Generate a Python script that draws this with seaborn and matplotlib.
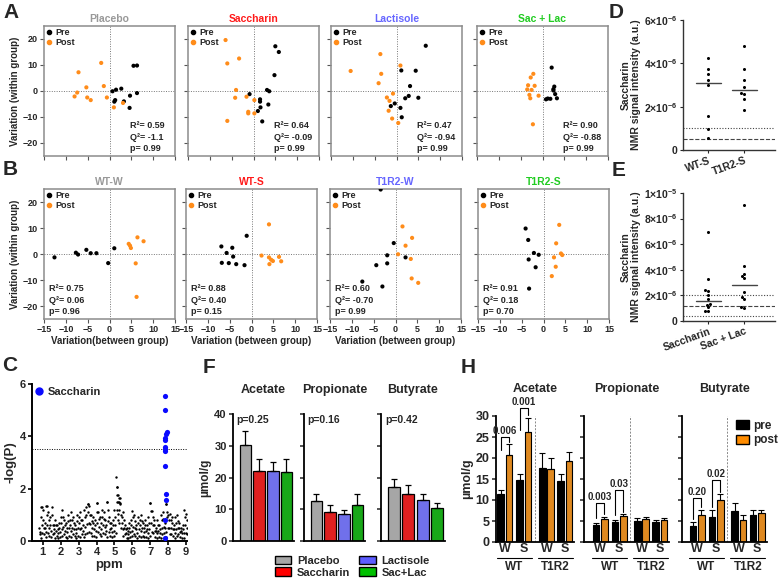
import numpy as np
import pandas as pd
import matplotlib
matplotlib.use("Agg")
import matplotlib.pyplot as plt
import matplotlib.transforms as mtransforms
import seaborn as sns
from matplotlib.patches import Patch
from matplotlib.lines import Line2D

# ---------------- data ----------------
# A: PLS-DA score plots (x = between group, y = within group)
placebo_pre = [(0.7, -0.1), (1.5, 0.5), (2.7, 0.9), (1.3, -3.5), (1.1, -4.1), (3.3, -4.0),
               (4.7, -1.8), (4.6, -6.5), (5.5, 9.7), (6.3, 9.8), (6.3, -0.8)]
placebo_post = [(-7.1, 7.2), (-1.9, 10.8), (-5.3, 1.4), (-7.4, -0.6), (-8.0, -2.1), (-5.1, -2.5),
                (-4.3, -3.5), (-1.3, 1.9), (-0.6, -2.5), (1.0, -6.3), (3.1, -4.6)]
saccharin_pre = [(5.0, 17.2), (5.8, 15.0), (4.8, 6.1), (3.1, 0.4), (3.6, -0.1), (3.4, -5.2),
                 (1.5, -3.2), (1.5, -4.1), (1.6, -6.3), (1.0, -7.7), (-0.9, -1.2), (2.0, -11.7)]
saccharin_post = [(-6.4, 19.6), (-6.0, 10.6), (-3.3, 12.5), (-4.0, 0.4), (-4.2, -2.6), (-1.6, -2.2),
                  (-1.2, -8.0), (-1.2, -8.6), (0.2, -3.5), (0.2, -8.6), (-6.0, -11.5)]
lactisole_pre = [(6.7, 17.4), (1.1, 7.9), (4.4, 7.8), (3.1, 1.9), (2.8, -1.9), (2.0, -2.8),
                 (5.0, -2.6), (0.9, -6.5), (1.2, -10.1), (-1.3, -5.8), (-0.4, -4.8)]
lactisole_post = [(-10.5, 7.7), (-3.7, 14.2), (-3.5, 6.6), (-4.1, 3.0), (-2.2, -2.5), (-1.6, -3.8),
                  (-1.8, -7.6), (-1.0, -10.6), (0.4, -12.3), (-0.8, -1.0), (0.9, 9.8)]
saclac_pre = [(2.1, 9.0), (2.7, 1.7), (2.5, 0.7), (2.5, 0.2), (2.9, -1.2), (3.3, -2.8),
              (1.8, -3.0), (0.8, -3.2), (1.2, -2.9)]
saclac_post = [(-2.1, 6.6), (-2.7, 5.2), (-3.5, 0.6), (-2.5, 0.4), (-1.8, 2.0), (-3.3, 2.2),
               (-3.0, -1.5), (-2.8, -2.8), (-0.9, -1.8), (-2.2, -12.8)]

# B: mouse score plots
wtw_pre = [(-12.6, -1.3), (-7.7, 0.5), (-7.2, -0.2), (-5.3, 1.6), (-4.3, 0.3), (-3.0, 0.3),
           (-0.3, -3.5), (1.1, 2.2)]
wtw_post = [(4.4, 3.9), (4.7, 3.2), (4.9, 2.3), (6.4, 6.4), (7.8, 4.9), (6.0, -3.6), (6.2, -16.5)]
wts_pre = [(-6.9, 2.9), (-5.7, 0.4), (-4.4, 2.4), (-4.2, -1.0), (-6.8, -3.4), (-5.2, -3.5),
           (-3.5, -3.9), (-1.6, -4.3), (-1.1, 7.0)]
wts_post = [(4.0, 11.4), (2.3, -0.6), (4.0, -1.3), (4.5, -2.2), (4.9, -2.7), (6.3, -1.1),
            (6.8, -2.8), (4.1, -3.9)]
t1r2w_pre = [(-3.4, 24.8), (-0.4, 4.2), (-1.9, -0.5), (-1.9, -3.6), (-4.4, -4.3), (-7.6, -10.6),
             (-3.0, -12.5), (2.3, -1.3)]
t1r2w_post = [(1.6, 10.6), (3.8, 6.2), (2.3, 3.2), (0.6, -0.1), (3.5, -1.9), (3.7, -9.4), (5.2, -11.1)]
t1r2s_pre = [(-4.1, 9.8), (-3.5, 5.4), (-2.2, 0.4), (-1.1, -0.3), (-3.4, -2.1), (-1.8, -5.1),
             (-3.3, -13.3)]
t1r2s_post = [(3.6, 11.2), (2.9, 4.1), (4.0, 0.2), (4.3, -0.4), (2.4, -1.3), (2.8, -4.9), (1.9, -8.5)]

a_stats = [("0.59", "-1.1", "0.99"), ("0.64", "-0.09", "0.99"),
           ("0.47", "-0.94", "0.99"), ("0.90", "-0.88", "0.99")]
b_stats = [("0.75", "0.06", "0.96"), ("0.88", "0.40", "0.15"),
           ("0.60", "-0.70", "0.99"), ("0.91", "0.18", "0.70")]

# C: -log(P) along the NMR spectrum
c_ppm = [0.8, 0.9, 1.0, 1.1, 1.2, 1.3, 1.4, 1.5, 1.6, 1.7, 1.8, 1.9, 2.0, 2.1, 2.2, 2.3, 2.4,
         2.5, 2.6, 2.7, 2.8, 2.9, 3.0, 3.1, 3.2, 3.3, 3.4, 3.5, 3.6, 3.7, 3.8, 3.9, 4.0, 4.1,
         4.2, 4.3, 4.4, 4.5, 4.6, 4.7, 4.8, 4.9, 5.0, 5.1, 5.2, 5.3, 5.4, 5.5, 5.6, 5.7, 5.8,
         5.9, 6.0, 6.1, 6.2, 6.3, 6.4, 6.5, 6.6, 6.7, 6.8, 6.9, 7.0, 7.1, 7.2, 7.3, 7.4, 7.5,
         7.6, 7.7, 7.8, 7.9, 8.0, 8.1, 8.2, 8.3, 8.4, 8.5, 8.6, 8.7, 8.8, 8.9, 9.0]
c_top = [0.5, 1.3, 1.2, 0.7, 1.35, 1.1, 0.9, 1.3, 0.6, 0.8, 0.6, 0.7, 0.9, 1.2, 0.8, 0.7, 1.0,
         0.8, 1.1, 0.9, 0.6, 1.0, 0.9, 1.1, 0.8, 1.2, 1.3, 1.4, 1.35, 1.0, 0.9, 0.8, 1.45, 1.1,
         0.9, 1.2, 1.1, 0.8, 1.5, 0.9, 0.7, 0.8, 1.2, 2.45, 1.75, 1.65, 0.9, 1.1, 0.6, 0.5, 0.7,
         0.8, 1.15, 1.0, 0.6, 0.9, 0.8, 1.0, 0.7, 0.8, 0.6, 0.9, 1.45, 1.15, 0.8, 0.5, 0.8, 0.6,
         1.0, 1.1, 0.7, 1.4, 1.0, 1.05, 0.9, 0.6, 0.9, 1.0, 0.7, 0.5, 0.6, 1.2, 1.05]
c_mid = [0.35, 0.9, 0.8, 0.5, 1.0, 0.8, 0.6, 1.0, 0.45, 0.6, 0.45, 0.5, 0.7, 0.9, 0.6, 0.5, 0.75,
         0.6, 0.8, 0.7, 0.45, 0.75, 0.7, 0.8, 0.6, 0.9, 1.0, 1.1, 1.0, 0.75, 0.7, 0.6, 1.1, 0.85,
         0.7, 0.9, 0.85, 0.6, 1.2, 0.7, 0.5, 0.6, 0.9, 2.05, 1.5, 1.4, 0.7, 0.8, 0.45, 0.4, 0.5,
         0.6, 0.9, 0.75, 0.45, 0.7, 0.6, 0.75, 0.5, 0.6, 0.45, 0.7, 1.15, 0.9, 0.6, 0.4, 0.6, 0.45,
         0.8, 0.85, 0.5, 1.1, 0.8, 0.8, 0.7, 0.45, 0.7, 0.75, 0.5, 0.4, 0.45, 0.9, 0.8]
c_low = [0.25, 0.6, 0.5, 0.35, 0.6, 0.5, 0.4, 0.6, 0.3, 0.4, 0.3, 0.35, 0.45, 0.55, 0.4, 0.35, 0.5,
         0.4, 0.5, 0.45, 0.3, 0.5, 0.45, 0.5, 0.4, 0.55, 0.65, 0.7, 0.65, 0.5, 0.45, 0.4, 0.7, 0.55,
         0.45, 0.6, 0.55, 0.4, 0.75, 0.45, 0.35, 0.4, 0.6, 1.5, 1.2, 1.0, 0.45, 0.5, 0.3, 0.25, 0.35,
         0.4, 0.55, 0.5, 0.3, 0.45, 0.4, 0.5, 0.35, 0.4, 0.3, 0.45, 0.7, 0.6, 0.4, 0.3, 0.4, 0.3,
         0.5, 0.55, 0.35, 0.9, 0.5, 0.5, 0.45, 0.3, 0.45, 0.5, 0.35, 0.3, 0.3, 0.6, 0.5]
c_floor = [0.1, 0.3, 0.25, 0.15, 0.3, 0.2, 0.15, 0.25, 0.1, 0.2, 0.1, 0.15, 0.2, 0.25, 0.15, 0.1, 0.2,
           0.15, 0.25, 0.2, 0.1, 0.2, 0.15, 0.25, 0.15, 0.25, 0.3, 0.35, 0.3, 0.2, 0.2, 0.15, 0.35, 0.25,
           0.2, 0.3, 0.25, 0.15, 0.35, 0.2, 0.15, 0.2, 0.3, 0.8, 0.7, 0.5, 0.2, 0.25, 0.1, 0.1, 0.15,
           0.2, 0.25, 0.2, 0.1, 0.2, 0.15, 0.2, 0.15, 0.15, 0.1, 0.2, 0.35, 0.3, 0.15, 0.1, 0.15, 0.1,
           0.25, 0.3, 0.15, 0.5, 0.25, 0.25, 0.2, 0.1, 0.2, 0.25, 0.15, 0.1, 0.1, 0.3, 0.25]
c_extra_ppm = [5.12, 5.15, 5.2, 5.25, 5.3, 7.0, 3.55, 4.05, 4.6, 0.95, 1.25, 7.88, 5.17, 5.22]
c_extra_val = [1.75, 2.05, 1.5, 1.65, 1.45, 1.45, 1.4, 1.45, 1.5, 1.3, 1.35, 1.4, 1.2, 1.05]
sac_ppm = [7.85, 7.85, 7.93, 7.9, 7.85, 7.83, 7.85, 7.83, 7.85, 7.85, 7.9, 7.9, 7.8, 7.85]
sac_logp = [5.55, 5.0, 4.15, 4.1, 3.95, 3.85, 3.6, 3.5, 3.45, 2.85, 1.8, 1.55, 0.8, 0.1]

# D / E: saccharin NMR intensity (x1e-6)
d_groups = ["WT-S", "T1R2-S"]
d_wt = [4.25, 3.75, 3.5, 3.25, 3.0, 1.55, 0.95, 0.55]
d_t1r2 = [4.8, 3.75, 3.25, 2.9, 2.65, 2.6, 2.35, 1.85]
d_medians = [3.1, 2.78]
e_groups = ["Saccharin", "Sac + Lac"]
e_sac = [6.96, 3.27, 2.41, 2.37, 2.05, 1.71, 1.3, 1.28, 1.08, 0.77, 0.75]
e_saclac = [9.1, 4.3, 3.66, 3.5, 3.37, 2.28, 1.9, 1.71, 1.11, 1.0]
e_medians = [1.58, 2.8]

# F: human SCFA
f_names = ["Placebo", "Saccharin", "Lactisole", "Sac+Lac"]
f_acetate = [30.2, 22.0, 22.0, 21.8]
f_acetate_err = [4.5, 3.9, 2.8, 4.1]
f_propionate = [12.7, 9.1, 8.4, 11.3]
f_propionate_err = [2.0, 2.1, 1.3, 3.5]
f_butyrate = [17.0, 14.7, 12.8, 10.5]
f_butyrate_err = [2.4, 2.9, 1.9, 1.6]
f_pvals = ["p=0.25", "p=0.16", "p=0.42"]

# H: mouse SCFA (W pre, W post, S pre, S post | WT, then T1R2)
h_cond = ["pre", "post"] * 4
h_acetate = [11.5, 20.8, 14.7, 26.1, 17.7, 17.3, 14.5, 19.2]
h_acetate_err = [1.0, 2.5, 1.6, 3.5, 3.4, 2.7, 1.6, 2.2]
h_propionate = [4.0, 5.4, 4.8, 6.1, 5.1, 5.4, 4.8, 5.2]
h_propionate_err = [0.5, 0.5, 0.5, 0.5, 0.5, 0.6, 0.4, 0.4]
h_butyrate = [3.7, 6.5, 6.0, 9.9, 7.4, 5.3, 6.4, 6.8]
h_butyrate_err = [1.1, 1.1, 1.7, 1.6, 1.9, 1.1, 1.3, 0.9]
h_pvals = [("0.006", "0.001"), ("0.003", "0.03"), ("0.20", "0.02")]

# ---------------- style ----------------
sns.set_theme(style="ticks")
plt.rcParams["font.family"] = ["Liberation Sans", "DejaVu Sans"]
plt.rcParams["font.weight"] = "bold"
plt.rcParams["axes.labelweight"] = "bold"
plt.rcParams["axes.titleweight"] = "bold"
plt.rcParams["mathtext.fontset"] = "custom"
plt.rcParams["mathtext.rm"] = "Liberation Sans:bold"
plt.rcParams["mathtext.bf"] = "Liberation Sans:bold"
plt.rcParams["mathtext.default"] = "bf"

ORANGE = "#ff8c1a"
W, H = 778, 578
fig = plt.figure(figsize=(7.78, 5.78), dpi=100)


def box(l, t, r, b):
    return [l / W, 1 - b / H, (r - l) / W, (b - t) / H]


def score_panel(l, t, title, tcolor, pre, post, stats, row, col, xlabel=None):
    ax = fig.add_axes(box(l, t, l + 131, t + 130))
    df = pd.DataFrame(pre + post, columns=["x", "y"])
    df["phase"] = ["Pre"] * len(pre) + ["Post"] * len(post)
    ax.axhline(0, color="#777", ls=(0, (1, 1.5)), lw=0.7, zorder=1)
    ax.axvline(0, color="#777", ls=(0, (1, 1.5)), lw=0.7, zorder=1)
    sns.scatterplot(data=df, x="x", y="y", hue="phase",
                    palette={"Pre": "black", "Post": ORANGE},
                    s=9, linewidth=0, legend=False, ax=ax, zorder=3)
    ax.set_xlim(-15, 15)
    ax.set_ylim(-25, 25)
    ax.set_xticks([-15, -10, -5, 0, 5, 10, 15])
    ax.set_yticks([-20, -10, 0, 10, 20])
    for sp in ax.spines.values():
        sp.set_color("#8c8c8c")
        sp.set_linewidth(1.1)
    ax.tick_params(length=3, width=0.8, color="#555", labelsize=6.5, pad=1.5)
    ax.set_xlabel(xlabel if xlabel else "", fontsize=7, labelpad=1.5)
    ax.set_ylabel("Variation (within group)" if col == 0 else "", fontsize=7, labelpad=2)
    if col != 0:
        ax.set_yticklabels([])
    if row == 0:
        ax.set_xticklabels([])
    ax.set_title(title, color=tcolor, fontsize=7.5, pad=3)
    handles = [Line2D([], [], marker="o", ls="", color="black", markersize=3, label="Pre"),
               Line2D([], [], marker="o", ls="", color=ORANGE, markersize=3, label="Post")]
    ax.legend(handles=handles, loc="upper left", frameon=False, fontsize=6.5,
              handlelength=0.5, handletextpad=0.5, labelspacing=0.05,
              borderaxespad=0.15, borderpad=0.1)
    r2, q2, p = stats
    x0 = 0.66 if row == 0 else 0.035
    for txt, yy in zip([f"R²= {r2}", f"Q²= {q2}", f"p= {p}"], [0.2, 0.11, 0.02]):
        ax.text(x0, yy, txt, transform=ax.transAxes, fontsize=6.5, va="bottom")
    return ax


a_lefts = [44, 188, 331, 477]
a_titles = [("Placebo", "#999999"), ("Saccharin", "#ff1a1a"),
            ("Lactisole", "#6666ff"), ("Sac + Lac", "#22cc22")]
a_data = [(placebo_pre, placebo_post), (saccharin_pre, saccharin_post),
          (lactisole_pre, lactisole_post), (saclac_pre, saclac_post)]
for i in range(4):
    score_panel(a_lefts[i], 26, a_titles[i][0], a_titles[i][1], a_data[i][0], a_data[i][1],
                a_stats[i], 0, i)

b_lefts = [44, 186, 330, 478]
b_titles = [("WT-W", "#999999"), ("WT-S", "#ff1a1a"), ("T1R2-W", "#6666ff"), ("T1R2-S", "#22cc22")]
b_data = [(wtw_pre, wtw_post), (wts_pre, wts_post), (t1r2w_pre, t1r2w_post), (t1r2s_pre, t1r2s_post)]
b_xlabels = ["Variation(between group)", "Variation (between group)", "Variation (between group)", None]
for i in range(4):
    score_panel(b_lefts[i], 189, b_titles[i][0], b_titles[i][1], b_data[i][0], b_data[i][1],
                b_stats[i], 1, i, b_xlabels[i])

# ---------------- C ----------------
axc = fig.add_axes(box(32, 384, 187, 541))
rows = [c_top, c_mid, c_low, c_floor]
offsets = [0.0, 0.03, 0.055, 0.075]
for vals, off in zip(rows, offsets):
    sns.scatterplot(x=np.array(c_ppm) + off, y=vals, color="black", s=3, linewidth=0, ax=axc)
sns.scatterplot(x=c_extra_ppm, y=c_extra_val, color="black", s=3, linewidth=0, ax=axc)
sns.scatterplot(x=sac_ppm, y=sac_logp, color="#0a0aff", s=14, linewidth=0, ax=axc, zorder=4)
axc.axhline(3.5, color="black", ls=(0, (1, 1.5)), lw=0.7)
axc.set_xlim(0.4, 9.05)
axc.set_ylim(0, 6)
axc.set_xticks(range(1, 10))
axc.set_yticks([0, 2, 4, 6])
sns.despine(ax=axc)
for sp in ["left", "bottom"]:
    axc.spines[sp].set_linewidth(1.4)
    axc.spines[sp].set_color("black")
axc.tick_params(labelsize=8, length=3, width=1.2, color="black", pad=1.5)
axc.set_xlabel("ppm", fontsize=9.5, labelpad=1)
axc.set_ylabel("-log(P)", fontsize=9.5, labelpad=2)
axc.legend(handles=[Line2D([], [], marker="o", ls="", color="#0a0aff", markersize=5, label="Saccharin")],
           loc="upper left", frameon=False, fontsize=8, handlelength=0.6, handletextpad=0.5,
           borderaxespad=0.2, borderpad=0.1)


# ---------------- D / E ----------------
def dot_panel(rect, groups, g1, g2, medians, ymax, ticks, ticklabels, hlines):
    ax = fig.add_axes(box(*rect))
    df = pd.DataFrame({"grp": [groups[0]] * len(g1) + [groups[1]] * len(g2),
                       "val": np.array(g1 + g2) * 1e-6})
    sns.swarmplot(data=df, x="grp", y="val", color="black", size=2.2, ax=ax)
    for i, m in enumerate(medians):
        ax.plot([i - 0.35, i + 0.35], [m * 1e-6, m * 1e-6], color="#444", lw=1)
    for yv, ls in hlines:
        ax.axhline(yv * 1e-6, color="#444", ls=ls, lw=0.8)
    ax.set_xlim(-0.7, 1.85)
    ax.set_ylim(0, ymax)
    ax.set_yticks(ticks)
    ax.set_yticklabels(ticklabels)
    ax.set_xlabel("")
    ax.set_ylabel("Saccharin\nNMR signal intensity (a.u.)", fontsize=7.5, labelpad=2, linespacing=1.1)
    sns.despine(ax=ax)
    for sp in ["left", "bottom"]:
        ax.spines[sp].set_linewidth(1.0)
        ax.spines[sp].set_color("#333")
    ax.tick_params(labelsize=7.5, length=2.5, width=0.8, pad=1.5)
    ax.set_xticks([0, 1])
    ax.set_xticklabels(groups, rotation=20, ha="right", rotation_mode="anchor", fontsize=7.5)
    return ax


dot_panel((683, 20, 775, 150), d_groups, d_wt, d_t1r2, d_medians, 6e-6,
          [0, 2e-6, 4e-6, 6e-6], ["0", "2×10$^{-6}$", "4×10$^{-6}$", "6×10$^{-6}$"],
          [(1.0, (0, (1, 1.5))), (0.5, "--")])
dot_panel((683, 193, 775, 321), e_groups, e_sac, e_saclac, e_medians, 1e-5,
          [0, 2e-6, 4e-6, 6e-6, 8e-6, 1e-5],
          ["0", "2×10$^{-6}$", "4×10$^{-6}$", "6×10$^{-6}$", "8×10$^{-6}$", "1×10$^{-5}$"],
          [(2.0, (0, (1, 1.5))), (1.2, "--"), (0.4, (0, (1, 1.5)))])

# ---------------- F ----------------
f_colors = ["#a6a6a6", "#ff0000", "#5c5cff", "#00c000"]
f_rects = [(233, 414, 294, 541), (304, 414, 365, 541), (381, 414, 445, 541)]
f_series = [(f_acetate, f_acetate_err, "Acetate"), (f_propionate, f_propionate_err, "Propionate"),
            (f_butyrate, f_butyrate_err, "Butyrate")]
for i, (rect, (vals, errs, title)) in enumerate(zip(f_rects, f_series)):
    ax = fig.add_axes(box(*rect))
    sns.barplot(x=f_names, y=vals, hue=f_names, palette=f_colors, legend=False,
                edgecolor="black", linewidth=0.9, width=0.85, ax=ax)
    ax.errorbar(range(4), vals, yerr=[np.zeros(4), errs], fmt="none", ecolor="black",
                elinewidth=0.9, capsize=2.5, capthick=0.9)
    ax.set_xlim(-0.9, 3.55)
    ax.set_ylim(0, 40)
    ax.set_yticks([0, 10, 20, 30, 40])
    ax.set_xticks([])
    sns.despine(ax=ax)
    for sp in ["left", "bottom"]:
        ax.spines[sp].set_linewidth(1.3)
        ax.spines[sp].set_color("black")
    ax.tick_params(labelsize=8, length=3, width=1.1, pad=1.5)
    if i > 0:
        ax.set_yticklabels([])
        ax.set_ylabel("")
    else:
        ax.set_ylabel("µmol/g", fontsize=8.5, labelpad=2)
    ax.set_title(title, fontsize=9, pad=15)
    ax.text(0.06, 0.99, f_pvals[i], transform=ax.transAxes, fontsize=7.5, va="top")

fig.legend(handles=[Patch(facecolor=c, edgecolor="black", label=n) for c, n in zip(f_colors, f_names)],
           ncol=2, loc="upper left", bbox_to_anchor=(268 / W, 1 - 549 / H), frameon=False,
           fontsize=8, handlelength=1.5, handleheight=0.8, handletextpad=0.5,
           columnspacing=0.8, labelspacing=0.15, borderpad=0.1)

# ---------------- H ----------------
h_pos = [0, 1, 2.3, 3.3, 5.0, 6.0, 7.2, 8.2]
h_rects = [(496, 416, 574, 542), (584, 416, 669, 542), (682, 416, 767, 542)]
h_xlims = [(-0.55, 8.8), (-1.45, 8.8), (-1.3, 8.9)]
h_series = [(h_acetate, h_acetate_err, "Acetate"), (h_propionate, h_propionate_err, "Propionate"),
            (h_butyrate, h_butyrate_err, "Butyrate")]
# brackets: (x1, x2, top, left leg, right leg, label y) in data units
h_brackets = [[(0, 1, 24.9, 22.0, 23.9, 26.4), (2.3, 3.3, 31.8, 26.7, 30.2, 33.4)],
              [(0, 1, 9.3, 5.8, 6.6, 10.6), (2.3, 3.3, 12.3, 6.4, 7.2, 13.8)],
              [(0, 1, 10.5, 5.5, 8.4, 11.9), (2.3, 3.3, 14.7, 8.4, 11.9, 16.1)]]
for i, rect in enumerate(h_rects):
    ax = fig.add_axes(box(*rect))
    vals, errs, title = h_series[i]
    sns.barplot(x=h_pos, y=vals, hue=h_cond, hue_order=["pre", "post"],
                palette={"pre": "black", "post": "#ff8c00"}, native_scale=True, dodge=False,
                width=0.8, edgecolor="black", linewidth=0.8, legend=False, ax=ax)
    ax.errorbar(h_pos, vals, yerr=[np.zeros(8), errs], fmt="none", ecolor="black",
                elinewidth=0.8, capsize=2, capthick=0.8)
    ax.axvline(4.1, color="#888", ls=(0, (2, 1.5)), lw=0.7)
    ax.set_xlim(*h_xlims[i])
    ax.set_ylim(0, 30)
    ax.set_yticks([0, 5, 10, 15, 20, 25, 30])
    ax.set_xticks([0.5, 2.8, 5.5, 7.7])
    ax.set_xticklabels(["W", "S", "W", "S"], fontsize=9)
    ax.tick_params(axis="x", length=0, pad=1)
    ax.tick_params(axis="y", labelsize=9, length=3, width=1.1, pad=1.5)
    sns.despine(ax=ax)
    for sp in ["left", "bottom"]:
        ax.spines[sp].set_linewidth(1.3)
        ax.spines[sp].set_color("black")
    if i == 0:
        ax.set_ylabel("µmol/g", fontsize=9, labelpad=2)
    else:
        ax.set_yticklabels([])
        ax.set_ylabel("")
    ax.set_xlabel("")
    ax.set_title(title, fontsize=9, pad=17)
    trans = mtransforms.blended_transform_factory(ax.transData, ax.transAxes)
    ax.plot([-0.45, 3.75], [-0.125, -0.125], transform=trans, clip_on=False, color="black", lw=0.8)
    ax.plot([4.5, 8.7], [-0.125, -0.125], transform=trans, clip_on=False, color="black", lw=0.8)
    ax.text(1.65, -0.2, "WT", transform=trans, ha="center", va="center", fontsize=8.5)
    ax.text(6.6, -0.2, "T1R2", transform=trans, ha="center", va="center", fontsize=8.5)
    for (x1, x2, top, yl, yr, ly), lab in zip(h_brackets[i], h_pvals[i]):
        ax.plot([x1, x1, x2, x2], [yl, top, top, yr], color="black", lw=0.8, clip_on=False)
        ax.text((x1 + x2) / 2, ly, lab, ha="center", va="center", fontsize=7, clip_on=False)

fig.legend(handles=[Patch(facecolor="black", edgecolor="black", label="pre"),
                    Patch(facecolor="#ff8c00", edgecolor="black", label="post")],
           loc="upper left", bbox_to_anchor=(729 / W, 1 - 413 / H), frameon=False,
           fontsize=8.5, handlelength=1.1, handleheight=0.8, handletextpad=0.35,
           labelspacing=0.2, borderpad=0.1)

# ---------------- panel letters ----------------
for letter, x, y in [("A", 3, 3), ("B", 3, 160), ("C", 2, 356), ("D", 609, 3),
                     ("E", 612, 161), ("F", 203, 358), ("H", 461, 358)]:
    fig.text(x / W, 1 - y / H, letter, fontsize=15, fontweight="bold", va="top", ha="left")

fig.savefig("out.png", dpi=100)
